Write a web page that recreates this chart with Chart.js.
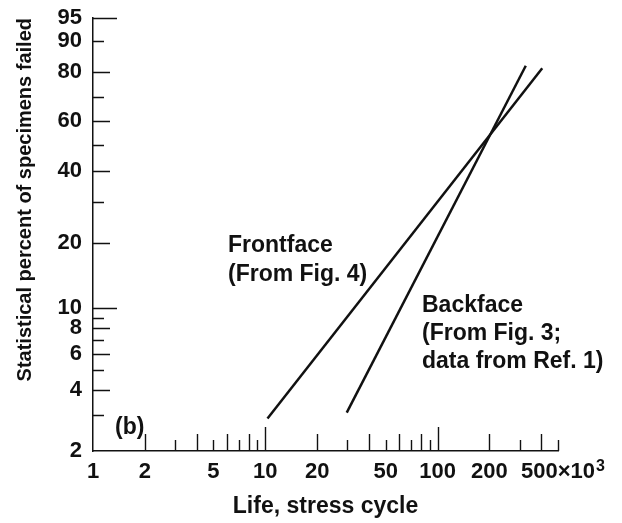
<!DOCTYPE html>
<html>
<head>
<meta charset="utf-8">
<script src="https://cdn.jsdelivr.net/npm/chart.js@4/dist/chart.umd.min.js"></script>
<style>
  html, body { margin: 0; padding: 0; background: #fff; }
  #wrap { width: 622px; height: 523px; }
</style>
</head>
<body>
<div id="wrap"><canvas id="weibullChart" width="622" height="523"></canvas></div>
<script>
// life in thousands of stress cycles / statistical percent failed
const frontfaceLife = [10.3, 405];
const frontfacePct = [2.9, 81.3];
const backfaceLife = [29.7, 325];
const backfacePct = [3.1, 82.2];

const lifeTicks = [1, 2, 3, 4, 5, 6, 7, 8, 9, 10, 20, 30, 40, 50, 60, 70, 80, 90, 100, 200, 300, 400, 500];
const lifeLabels = [1, 2, 5, 10, 20, 50, 100, 200, 500];
const pctTicks = [2, 3, 4, 5, 6, 7, 8, 9, 10, 20, 30, 40, 50, 60, 70, 80, 90, 95];
const pctLabels = [2, 4, 6, 8, 10, 20, 40, 60, 80, 90, 95];

const INK = "#111";
const FONT = '"Liberation Sans", Arial, Helvetica, sans-serif';

// weibull probability paper: ln(-ln(1 - p))
const wb = (pct) => Math.log(-Math.log(1 - pct / 100));

class WeibullScale extends Chart.Scale {
  static id = "weibull";
  static defaults = {};

  determineDataLimits() {
    this.min = this.options.min;
    this.max = this.options.max;
  }
  buildTicks() {
    return pctTicks.map((v) => ({ value: v }));
  }
  configure() {
    super.configure();
    this._startValue = wb(this.min);
    this._valueRange = wb(this.max) - this._startValue;
  }
  getLabelForValue(value) {
    return String(value);
  }
  getPixelForValue(value) {
    if (value === null || value === undefined) return NaN;
    return this.getPixelForDecimal((wb(value) - this._startValue) / this._valueRange);
  }
  getValueForPixel(pixel) {
    const w = this._startValue + this.getDecimalForPixel(pixel) * this._valueRange;
    return 100 * (1 - Math.exp(-Math.exp(w)));
  }
}
Chart.register(WeibullScale);

const leadDigit = (v) => Math.round(v / Math.pow(10, Math.floor(Math.log10(v) + 1e-9)));

function xTickLen(v) {
  if (v === 1) return 0;
  const d = leadDigit(v);
  if (d === 1) return 24;
  return d % 2 === 0 ? 17 : 11;
}
function yTickLen(v) {
  if (v === 2) return 0;
  if (v === 95 || v === 10) return 24;
  return leadDigit(v) % 2 === 1 ? 11 : 17;
}

// inward tick marks, annotations and the x10^3 exponent
const paperMarks = {
  id: "paperMarks",
  afterDraw(chart, args, opts) {
    const { ctx, scales: { x, y } } = chart;
    ctx.save();
    ctx.strokeStyle = INK;
    ctx.lineWidth = 1.4;
    ctx.beginPath();
    x.ticks.forEach((t) => {
      const len = xTickLen(t.value);
      if (!len) return;
      const px = Math.round(x.getPixelForValue(t.value)) + 0.5;
      ctx.moveTo(px, x.top);
      ctx.lineTo(px, x.top - len);
    });
    y.ticks.forEach((t) => {
      const len = yTickLen(t.value);
      if (!len) return;
      const py = Math.round(y.getPixelForValue(t.value)) + 0.5;
      ctx.moveTo(y.right, py);
      ctx.lineTo(y.right + len, py);
    });
    ctx.stroke();

    ctx.fillStyle = INK;
    ctx.textAlign = "left";
    ctx.textBaseline = "alphabetic";
    ctx.font = "bold 23px " + FONT;
    opts.notes.forEach((n) => ctx.fillText(n.text, n.x, n.y));

    // exponent after the last life label
    ctx.font = "bold 22px " + FONT;
    const half = ctx.measureText("500×10").width / 2;
    const px = x.getPixelForValue(500);
    ctx.font = "bold 16px " + FONT;
    ctx.fillText("3", px + half + 1, 471);
    ctx.restore();
  },
};

new Chart(document.getElementById("weibullChart"), {
  type: "line",
  data: {
    datasets: [
      {
        label: "Frontface",
        data: frontfaceLife.map((v, i) => ({ x: v, y: frontfacePct[i] })),
        borderColor: INK,
        borderWidth: 2.5,
        pointRadius: 0,
        fill: false,
      },
      {
        label: "Backface",
        data: backfaceLife.map((v, i) => ({ x: v, y: backfacePct[i] })),
        borderColor: INK,
        borderWidth: 2.5,
        pointRadius: 0,
        fill: false,
      },
    ],
  },
  options: {
    responsive: false,
    animation: false,
    devicePixelRatio: 1,
    layout: { padding: { left: 0, top: 18, right: 64, bottom: 0 } },
    plugins: {
      legend: { display: false },
      tooltip: { enabled: false },
      paperMarks: {
        notes: [
          { text: "Frontface", x: 228, y: 252 },
          { text: "(From Fig. 4)", x: 228, y: 281 },
          { text: "Backface", x: 422, y: 312 },
          { text: "(From Fig. 3;", x: 422, y: 340 },
          { text: "data from Ref. 1)", x: 422, y: 368 },
          { text: "(b)", x: 115, y: 434 },
        ],
      },
    },
    scales: {
      x: {
        type: "logarithmic",
        min: 1,
        max: 500,
        afterBuildTicks: (scale) => {
          scale.ticks = lifeTicks.map((v) => ({ value: v }));
        },
        afterFit: (scale) => {
          scale.height = 72;
        },
        grid: { display: false, drawTicks: false },
        border: { display: true, color: INK, width: 1.5 },
        ticks: {
          autoSkip: false,
          maxRotation: 0,
          padding: 8,
          color: INK,
          font: { family: FONT, size: 22, weight: "bold" },
          callback: (value) => {
            if (value === 500) return "500×10";
            return lifeLabels.includes(value) ? String(value) : "";
          },
        },
        title: {
          display: true,
          text: "Life, stress cycle",
          color: INK,
          font: { family: FONT, size: 23, weight: "bold" },
          padding: { top: 0, bottom: 3 },
        },
      },
      y: {
        type: "weibull",
        min: 2,
        max: 95,
        afterFit: (scale) => {
          scale.width = 93;
          scale.paddingTop = 0;
          scale.paddingBottom = 0;
        },
        grid: { display: false, drawTicks: false },
        border: { display: true, color: INK, width: 1.5 },
        ticks: {
          autoSkip: false,
          padding: 11,
          color: INK,
          font: { family: FONT, size: 22, weight: "bold" },
          callback: (value) => (pctLabels.includes(value) ? String(value) : ""),
        },
        title: {
          display: true,
          text: "Statistical percent of specimens failed",
          align: "end",
          color: INK,
          font: { family: FONT, size: 20, weight: "bold" },
          padding: { top: 13, bottom: 0 },
        },
      },
    },
  },
  plugins: [paperMarks],
});
</script>
</body>
</html>
